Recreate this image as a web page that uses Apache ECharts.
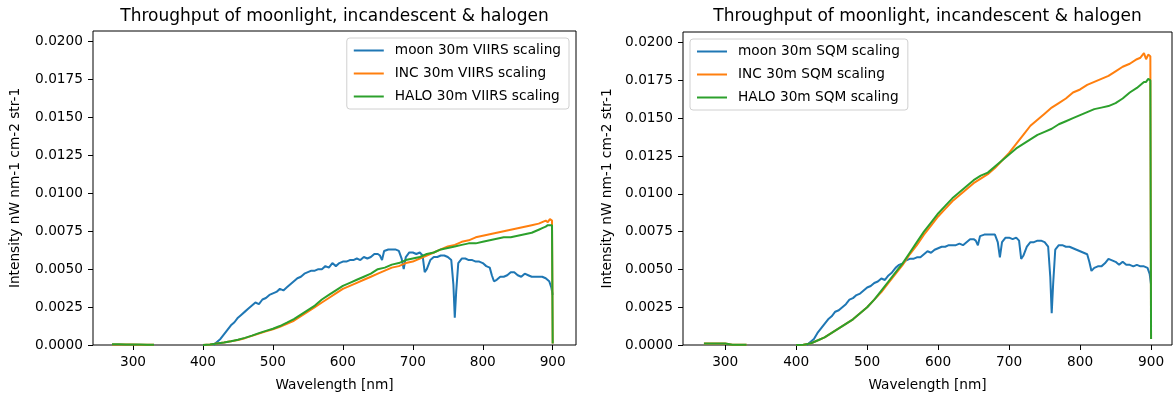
<!DOCTYPE html>
<html><head><meta charset="utf-8">
<script src="https://cdn.jsdelivr.net/npm/echarts@6/dist/echarts.min.js"></script>
<style>html,body{margin:0;padding:0;background:#fff}#c{width:1174px;height:397px}</style>
</head><body><div id="c"></div>
<script>
const titleText = 'Throughput of moonlight, incandescent & halogen';
const xName = 'Wavelength [nm]';
const yName = 'Intensity nW nm-1 cm-2 str-1';
const xTicks = [300, 400, 500, 600, 700, 800, 900];
const yTicks = [0, 0.0025, 0.005, 0.0075, 0.01, 0.0125, 0.015, 0.0175, 0.02];

const namesVIIRS = ['moon 30m VIIRS scaling', 'INC 30m VIIRS scaling', 'HALO 30m VIIRS scaling'];
const namesSQM = ['moon 30m SQM scaling', 'INC 30m SQM scaling', 'HALO 30m SQM scaling'];

const moonWl = [
  415,420,425,430,435,440,445,450,455,460,
  465,470,475,480,485,490,495,500,505,510,
  515,520,525,530,535,540,545,550,555,560,
  565,570,575,580,585,590,595,600,605,610,
  615,620,625,630,635,640,645,650,653,656,
  659,665,670,675,680,684,687,690,695,700,
  705,710,714,717,720,725,730,735,740,745,
  750,755,758,760,762,765,770,775,780,785,
  790,795,800,805,810,813,816,820,825,830,
  835,840,845,850,855,860,865,870,875,880,
  885,890,895,898,900
];
const moonVIIRS = [
  0,0.0002,0.0004,0.0007,0.0010,0.0013,0.0015,0.0018,0.0020,0.0022,
  0.0024,0.0026,0.0028,0.0027,0.0030,0.0031,0.0033,0.0034,0.0035,0.0037,
  0.0036,0.0038,0.0040,0.0042,0.0044,0.0045,0.0047,0.0048,0.0049,0.0049,
  0.0050,0.0050,0.0052,0.0051,0.0054,0.0052,0.0054,0.0055,0.0055,0.0056,
  0.0056,0.0057,0.0056,0.0058,0.0057,0.0058,0.0060,0.0060,0.0059,0.0056,
  0.0062,0.0063,0.0063,0.0063,0.0062,0.0057,0.0050,0.0058,0.0061,0.0061,
  0.0060,0.0061,0.0059,0.0048,0.0050,0.0056,0.0058,0.0058,0.0059,0.0059,
  0.0058,0.0056,0.0040,0.0018,0.0035,0.0054,0.0057,0.0057,0.0056,0.0056,
  0.0055,0.0055,0.0054,0.0052,0.0051,0.0046,0.0042,0.0043,0.0045,0.0045,
  0.0046,0.0048,0.0048,0.0046,0.0045,0.0047,0.0046,0.0045,0.0045,0.0045,
  0.0045,0.0044,0.0042,0.0038,0.0033
];
const moonSQM = [
  0,0.0002,0.0004,0.0008,0.0011,0.0014,0.0017,0.0019,0.0022,0.0023,
  0.0025,0.0027,0.0030,0.0031,0.0033,0.0034,0.0036,0.0038,0.0039,0.0041,
  0.0042,0.0044,0.0043,0.0046,0.0048,0.0051,0.0053,0.0054,0.0056,0.0057,
  0.0057,0.0058,0.0058,0.0060,0.0062,0.0061,0.0063,0.0064,0.0065,0.0065,
  0.0066,0.0066,0.0066,0.0067,0.0066,0.0068,0.0070,0.0070,0.0069,0.0066,
  0.0072,0.0073,0.0073,0.0073,0.0073,0.0068,0.0058,0.0068,0.0071,0.0071,
  0.0070,0.0071,0.0069,0.0057,0.0059,0.0065,0.0068,0.0068,0.0069,0.0069,
  0.0068,0.0065,0.0045,0.0021,0.0040,0.0063,0.0066,0.0066,0.0065,0.0065,
  0.0064,0.0063,0.0062,0.0061,0.0060,0.0055,0.0049,0.0051,0.0052,0.0052,
  0.0054,0.0057,0.0056,0.0055,0.0053,0.0055,0.0053,0.0053,0.0052,0.0053,
  0.0052,0.0052,0.0051,0.0047,0.0040
];

const lampWl = [
  270,280,290,300,310,320,330,340,
  400,410,420,430,440,450,460,470,480,490,
  500,510,520,530,540,550,560,570,580,590,
  600,610,620,630,640,650,660,670,680,690,
  700,710,720,730,740,750,760,770,780,790,
  800,810,820,830,840,850,860,870,880,885,
  890,893,896,899,900
];
const incVIIRS = [
  0.00004,0.00004,0.00003,0.00003,0.00002,0.00002,0.00001,null,
  0,0.00003,0.0001,0.00016,0.00024,0.00033,0.00045,0.0006,0.00075,0.0009,
  0.00104,0.0012,0.0014,0.0016,0.0019,0.0022,0.0025,0.0028,0.0031,0.0034,
  0.0037,0.0039,0.0041,0.0043,0.0045,0.0047,0.0049,0.0051,0.0052,0.0054,
  0.0055,0.0057,0.0059,0.0061,0.0063,0.0065,0.0066,0.0068,0.0069,0.0071,
  0.0072,0.0073,0.0074,0.0075,0.0076,0.0077,0.0078,0.0079,0.0080,0.0081,
  0.0082,0.0081,0.0083,0.0082,0.0001
];
const haloVIIRS = [
  0.00005,0.00005,0.00004,0.00004,0.00003,0.00002,0.00001,null,
  0,0.00003,0.0001,0.00017,0.00025,0.00035,0.00047,0.00062,0.00078,0.00093,
  0.00107,0.00125,0.00147,0.0017,0.0020,0.0023,0.0026,0.0030,0.0033,0.0036,
  0.0039,0.0041,0.0043,0.0045,0.0047,0.0050,0.0051,0.0053,0.0054,0.0056,
  0.0057,0.0058,0.0060,0.0061,0.0063,0.0064,0.0065,0.0066,0.0067,0.0067,
  0.0068,0.0069,0.0070,0.0071,0.0071,0.0072,0.0073,0.0074,0.0076,0.0077,
  0.0078,0.0079,0.0079,0.0079,0.0001
];
const incSQM = [
  0.0001,0.0001,0.0001,0.0001,0.00002,0.00002,0.00001,null,
  0,0.00002,0.0001,0.0003,0.0005,0.0008,0.0011,0.0014,0.0017,0.0021,
  0.0025,0.0030,0.0035,0.0041,0.0047,0.0053,0.0060,0.0066,0.0073,0.0079,
  0.0085,0.0090,0.0095,0.0099,0.0103,0.0107,0.0110,0.0113,0.0117,0.0122,
  0.0127,0.0133,0.0139,0.0145,0.0149,0.0153,0.0157,0.0160,0.0163,0.0167,
  0.0169,0.0172,0.0174,0.0176,0.0178,0.0181,0.0184,0.0186,0.0189,0.0190,
  0.0193,0.0189,0.0192,0.0191,0.0004
];
const haloSQM = [
  0.0001,0.0001,0.0001,0.0001,0.00002,0.00002,0.00001,null,
  0,0.00002,0.0001,0.0003,0.0005,0.0008,0.0011,0.0014,0.0017,0.0021,
  0.0025,0.0030,0.0036,0.0042,0.0048,0.0054,0.0061,0.0068,0.0075,0.0081,
  0.0087,0.0092,0.0097,0.0101,0.0105,0.0109,0.0112,0.0114,0.0118,0.0122,
  0.0126,0.0130,0.0133,0.0136,0.0139,0.0141,0.0143,0.0146,0.0148,0.0150,
  0.0152,0.0154,0.0156,0.0157,0.0158,0.0160,0.0163,0.0167,0.0170,0.0172,
  0.0174,0.0174,0.0176,0.0175,0.0004
];

const colors = ['#1f77b4', '#ff7f0e', '#2ca02c'];
const FONT = 'DejaVu Sans';
const FS = 13.7;

function pairs(wl, vals) { return wl.map((w, i) => [w, vals[i] === null ? '-' : vals[i]]); }

function xAxis(idx, min, max) {
  return {
    type: 'value', gridIndex: idx, min: min, max: max,
    name: xName, nameLocation: 'middle', nameGap: 33,
    nameTextStyle: { fontFamily: FONT, fontSize: FS, color: '#000' },
    axisLine: { show: false },
    axisTick: { show: true, length: 5, customValues: xTicks, lineStyle: { color: '#000', width: 1 } },
    axisLabel: { customValues: xTicks, margin: 10, fontFamily: FONT, fontSize: FS, color: '#000' },
    splitLine: { show: false }
  };
}
function yAxis(idx, gap) {
  return {
    type: 'value', gridIndex: idx, min: 0, max: 0.0207,
    name: yName, nameLocation: 'middle', nameGap: gap,
    nameTextStyle: { fontFamily: FONT, fontSize: FS, color: '#000' },
    axisLine: { show: false },
    axisTick: { show: true, length: 5, customValues: yTicks, lineStyle: { color: '#000', width: 1 } },
    axisLabel: { customValues: yTicks, margin: 10, fontFamily: FONT, fontSize: FS, color: '#000',
      formatter: v => v.toFixed(4) },
    splitLine: { show: false }
  };
}
function line(name, data, ci, gi) {
  return { type: 'line', name: name, data: data, xAxisIndex: gi, yAxisIndex: gi,
    symbol: 'none', showSymbol: false, color: colors[ci],
    lineStyle: { width: 2, color: colors[ci] }, animation: false, connectNulls: false };
}
function legend(names, pos) {
  return Object.assign({
    data: names, orient: 'vertical', icon: 'rect', itemWidth: 30, itemHeight: 2, itemGap: 8,
    padding: [5, 8, 5, 7], borderColor: '#d0d0d0', borderWidth: 1, borderRadius: 3,
    backgroundColor: 'rgba(255,255,255,0.8)', selectedMode: false,
    textStyle: { fontFamily: FONT, fontSize: FS, color: '#000', padding: [0, 0, 0, 6], lineHeight: 15 }
  }, pos);
}

const chart = echarts.init(document.getElementById('c'), null, { renderer: 'canvas' });
chart.setOption({
  backgroundColor: '#fff',
  animation: false,
  title: [
    { text: titleText, left: 334.5, top: 8, textAlign: 'center', padding: 0,
      textStyle: { fontFamily: FONT, fontSize: 17, fontWeight: 'normal', color: '#000' } },
    { text: titleText, left: 927.5, top: 8, textAlign: 'center', padding: 0,
      textStyle: { fontFamily: FONT, fontSize: 17, fontWeight: 'normal', color: '#000' } }
  ],
  grid: [
    { left: 93, top: 31, width: 483, height: 314, show: true, borderColor: '#000', borderWidth: 1, containLabel: false },
    { left: 683, top: 32, width: 489, height: 317, show: true, borderColor: '#000', borderWidth: 1, containLabel: false }
  ],
  xAxis: [xAxis(0, 242.8, 933.3), xAxis(1, 240.5, 929.5)],
  yAxis: [yAxis(0, 71), yAxis(1, 69)],
  legend: [legend(namesVIIRS, { right: 605, top: 38 }), legend(namesSQM, { left: 690, top: 39 })],
  series: [
    line(namesVIIRS[0], pairs(moonWl, moonVIIRS), 0, 0),
    line(namesVIIRS[1], pairs(lampWl, incVIIRS), 1, 0),
    line(namesVIIRS[2], pairs(lampWl, haloVIIRS), 2, 0),
    line(namesSQM[0], pairs(moonWl, moonSQM), 0, 1),
    line(namesSQM[1], pairs(lampWl, incSQM), 1, 1),
    line(namesSQM[2], pairs(lampWl, haloSQM), 2, 1)
  ]
});
</script>
</body></html>
